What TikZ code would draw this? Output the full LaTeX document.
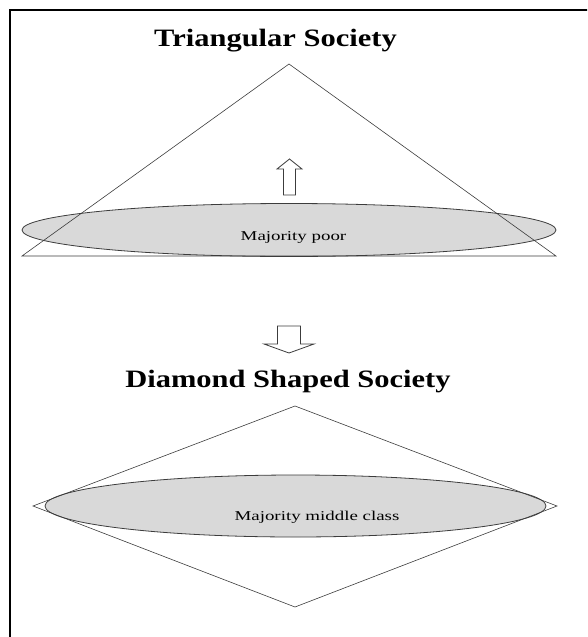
\documentclass[tikz,border=0pt]{standalone}
\usepackage{fontspec}
\setmainfont{Liberation Serif}
\newfontfamily\headfont[FakeStretch=1.22]{Liberation Serif}
\newfontfamily\bodyfont[FakeStretch=1.40]{Liberation Serif}
\usepackage{tikz}
\usetikzlibrary{shapes.geometric}
\definecolor{bandGray}{RGB}{217,217,217}
\definecolor{edgeGray}{RGB}{60,60,60}

\begin{document}
\begin{tikzpicture}[x=1pt,y=-1pt,
  title/.style={anchor=base,inner sep=0pt,font=\headfont\bfseries\fontsize{25}{30}\selectfont},
  band/.style={ellipse,draw=edgeGray,line width=0.8pt,fill=bandGray,inner sep=0pt},
  tag/.style={anchor=base,inner sep=0pt,text=black,font=\bodyfont\fontsize{13.5}{16}\selectfont},
  outline/.style={draw=edgeGray,line width=0.6pt,line join=miter},
  blockarrow/.style={draw=edgeGray,line width=0.8pt,fill=white,line join=miter}
]
\useasboundingbox (0,0) rectangle (587,637);
\clip (0,0) rectangle (587,637);
\draw[line width=2.5pt] (10,10) rectangle (640,690);

% triangular society
\node[title] (tri) at (275.5,46) {Triangular Society};
\node[band,minimum width=534pt,minimum height=53pt] (poor) at (289,230) {};
\node[tag] (poortxt) at (293.5,240) {Majority poor};
\coordinate (tapex) at (289,64);
\coordinate (tleft) at (22,256);
\coordinate (tright) at (556,256);
\draw[outline] (tapex) -- (tleft) -- (tright) -- cycle;
\draw[blockarrow] (283.5,195) -- (283.5,169) -- (277,169) -- (289.5,159)
  -- (302,169) -- (295.5,169) -- (295.5,195) -- cycle;

% change
\draw[blockarrow] (277.5,326) -- (300.5,326) -- (300.5,344) -- (314,344)
  -- (289,353) -- (264,344) -- (277.5,344) -- cycle;

% diamond shaped society
\node[title] (dia) at (288,387) {Diamond Shaped Society};
\node[band,minimum width=501pt,minimum height=62pt] (middle) at (295.5,506) {};
\node[tag] (middletxt) at (317,520) {Majority middle class};
\coordinate (dtop) at (295,406);
\coordinate (dleft) at (33,506);
\coordinate (dbottom) at (295,607);
\coordinate (dright) at (557,506);
\draw[outline] (dtop) -- (dleft) -- (dbottom) -- (dright) -- cycle;
\end{tikzpicture}
\end{document}
